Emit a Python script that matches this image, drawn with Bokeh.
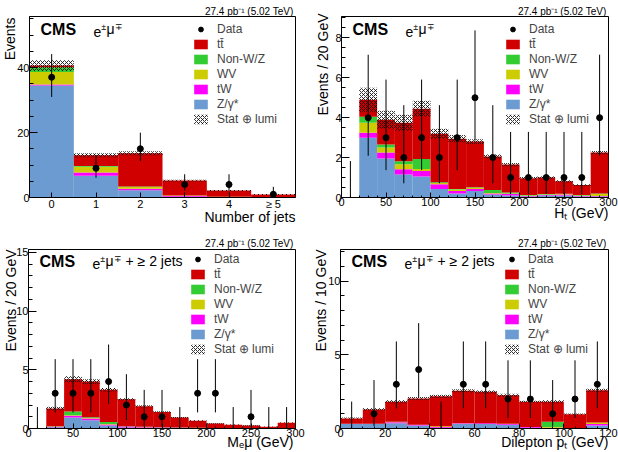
import numpy as np
from bokeh.plotting import figure
from bokeh.layouts import column, row
from bokeh.models import (Label, Legend, LegendItem, FixedTicker,
                          SingleIntervalTicker, Title)
from bokeh.embed import file_html
from bokeh.resources import INLINE

FONT = "Liberation Sans"

# process colours
C_TT = "#d10000"
C_NONW = "#33cc33"
C_WV = "#cccc00"
C_TW = "#ff00ff"
C_ZG = "#6b9bd1"

# ---- jet multiplicity (e mu) ----
njet_labels = ["0", "1", "2", "3", "4", "≥ 5"]
njet_zg = [34.5, 6.7, 2.2, 0.25, 0.05, 0.02]
njet_tw = [0.3, 1.0, 0.5, 0.25, 0.1, 0.05]
njet_wv = [3.8, 1.8, 0.5, 0.1, 0.05, 0.02]
njet_nonw = [1.5, 0.2, 0.2, 0.05, 0.02, 0.01]
njet_tt = [0.5, 3.3, 10.2, 4.55, 1.9, 0.8]
njet_stat = [1.7, 0.6, 0.6, 0.3, 0.2, 0.15]
njet_data = [37, 9, 15, 4, 4, 1]

# ---- H_T (e mu), 20 GeV bins ----
ht_edges = list(range(0, 301, 20))
ht_zg = [0, 3.0, 1.95, 1.15, 1.05, 0.42, 0.2, 0.33, 0.15, 0.1, 0.05, 0.1, 0.1, 0.05, 0.05]
ht_tw = [0, 0.25, 0.3, 0.27, 0.28, 0.25, 0.12, 0.1, 0.05, 0.08, 0.03, 0.03, 0.05, 0.03, 0.03]
ht_wv = [0, 0.5, 0.25, 0.25, 0.1, 0.06, 0.08, 0.06, 0.03, 0.02, 0.02, 0.02, 0.02, 0.02, 0.1]
ht_nonw = [0, 0.3, 0.15, 0.15, 0.5, 0.03, 0.02, 0.02, 0.15, 0.05, 0.02, 0.02, 0.02, 0.02, 0.02]
ht_tt = [0, 0.85, 1.25, 1.93, 2.52, 2.44, 2.53, 2.29, 1.67, 1.4, 0.85, 0.83, 0.63, 0.51, 2.05]
ht_stat = [0, 0.6, 0.45, 0.4, 0.4, 0.25, 0.18, 0.12, 0.1, 0.08, 0.06, 0.06, 0.06, 0.05, 0.08]
ht_data = [0, 4, 3, 2, 3, 2, 3, 5, 2, 1, 1, 1, 1, 1, 4]

# ---- dilepton mass (e mu + >= 2 jets), 20 GeV bins ----
mll_edges = list(range(0, 301, 20))
mll_zg = [0, 0.1, 0.94, 0.7, 0.25, 0.08, 0.05, 0.03, 0.02, 0.02, 0.01, 0.01, 0.01, 0.0, 0.01]
mll_tw = [0, 0.05, 0.14, 0.15, 0.1, 0.08, 0.06, 0.05, 0.04, 0.03, 0.02, 0.02, 0.01, 0.01, 0.02]
mll_wv = [0, 0.02, 0.05, 0.05, 0.03, 0.02, 0.02, 0.01, 0.01, 0.01, 0.01, 0.0, 0.0, 0.0, 0.01]
mll_nonw = [0, 0.02, 0.32, 0.05, 0.17, 0.02, 0.01, 0.01, 0.01, 0.0, 0.0, 0.0, 0.0, 0.0, 0.0]
mll_tt = [0, 1.51, 2.75, 3.05, 2.75, 2.3, 1.76, 1.3, 0.86, 0.6, 0.39, 0.29, 0.24, 0.14, 0.46]
mll_stat = [0, 0.15, 0.25, 0.2, 0.15, 0.1, 0.08, 0.06, 0.05, 0.04, 0.03, 0.03, 0.03, 0.02, 0.04]
mll_data = [0, 3, 3, 3, 4, 2, 1, 1, 0, 3, 3, 0, 1, 0, 0]

# ---- dilepton pT (e mu + >= 2 jets), 10 GeV bins ----
ptll_edges = list(range(0, 121, 10))
ptll_zg = [0.3, 0.3, 0.35, 0.2, 0.05, 0.3, 0.3, 0.25, 0.05, 0.03, 0.02, 0.2]
ptll_tw = [0.02, 0.02, 0.08, 0.05, 0.05, 0.05, 0.05, 0.05, 0.05, 0.02, 0.01, 0.1]
ptll_wv = [0.01, 0.01, 0.01, 0.01, 0.05, 0.02, 0.01, 0.02, 0.01, 0.05, 0.01, 0.1]
ptll_nonw = [0.0, 0.0, 0.01, 0.0, 0.0, 0.01, 0.0, 0.0, 0.0, 0.35, 0.0, 0.0]
ptll_tt = [0.35, 0.96, 1.36, 1.78, 2.04, 2.18, 2.13, 1.94, 1.70, 1.36, 0.93, 2.2]
ptll_stat = [0.06, 0.08, 0.1, 0.1, 0.1, 0.1, 0.1, 0.1, 0.08, 0.1, 0.05, 0.1]
ptll_data = [0, 1, 3, 4, 0, 3, 3, 2, 2, 1, 2, 3]

LEGEND_LABELS = ["Data", "tt\u0304", "Non-W/Z", "WV", "tW", "Z/\u03b3*", "Stat \u2295 lumi"]
LUMI_TEXT = "27.4 pb\u207b\u00b9 (5.02 TeV)"


def poisson_interval(n):
    """Approximate 68% Garwood interval (Wilson-Hilferty)."""
    n = np.asarray(n, dtype=float)
    safe = np.maximum(n, 1.0)
    lo = np.where(n > 0, safe * (1 - 1 / (9 * safe) - 1 / (3 * np.sqrt(safe))) ** 3, 0.0)
    m = n + 1
    hi = m * (1 - 1 / (9 * m) + 1 / (3 * np.sqrt(m))) ** 3
    return lo, hi


def text(p, x, y, s, size, **kw):
    kw.setdefault("text_font", FONT)
    kw.setdefault("text_color", "black")
    lab = Label(x=x, y=y, x_units="screen", y_units="screen", text=s,
                text_font_size=size, **kw)
    p.add_layout(lab)
    return lab


def title(s, size, standoff, offset, valign="bottom"):
    return Title(text=s, align="right", vertical_align=valign,
                 text_font=FONT, text_font_size=size,
                 text_font_style="normal", text_color="black",
                 standoff=standoff, offset=offset)


def panel(left, right, comps, stat, data, xr, yr, borders, xticker, yticker,
          channel_extra, ytitle, xtitle, lumi_cfg, y_cfg, x_cfg, legend_pos,
          x_overrides=None):
    L, R, T, B = borders
    W, H = 309, 226
    fw, fh = W - L - R, H - T - B
    p = figure(width=W, height=H, x_range=xr, y_range=yr,
               output_backend="svg", toolbar_location=None,
               min_border_left=L, min_border_right=R,
               min_border_top=T, min_border_bottom=B)
    p.background_fill_color = "white"
    p.border_fill_color = "white"
    p.outline_line_color = "black"
    p.outline_line_width = 1
    p.xgrid.visible = False
    p.ygrid.visible = False

    for ax, tick_len in ((p.xaxis, 5), (p.yaxis, 8)):
        ax.axis_line_color = "black"
        ax.major_tick_line_color = "black"
        ax.minor_tick_line_color = "black"
        ax.major_tick_in = tick_len
        ax.major_tick_out = 0
        ax.minor_tick_in = tick_len // 2
        ax.minor_tick_out = 0
        ax.major_label_text_font = FONT
        ax.major_label_text_font_size = "11px"
        ax.major_label_text_color = "black"
    p.xaxis.major_label_standoff = 0
    p.yaxis.major_label_standoff = 0
    p.xaxis.ticker = xticker
    p.yaxis.ticker = yticker
    if x_overrides:
        p.xaxis.major_label_overrides = x_overrides

    left = np.asarray(left, float)
    right = np.asarray(right, float)
    base = np.zeros(len(left))
    rend = {}
    for name, vals, color in comps:
        top = base + np.asarray(vals, float)
        rend[name] = p.quad(left=left, right=right, bottom=base, top=top,
                            fill_color=color, line_color=None)
        base = top
    stat = np.asarray(stat, float)
    band = p.quad(left=left, right=right, bottom=base - stat, top=base + stat,
                  fill_alpha=0, line_color=None,
                  hatch_pattern="diagonal_cross", hatch_color="black",
                  hatch_scale=4, hatch_weight=0.8)

    data = np.asarray(data, float)
    centers = 0.5 * (left + right)
    lo, hi = poisson_interval(data)
    p.segment(x0=centers, y0=lo, x1=centers, y1=hi, line_color="black",
              line_width=1)
    has = data > 0
    pts = p.scatter(x=centers[has], y=data[has], size=6, color="black")

    legend = Legend(
        items=[LegendItem(label=LEGEND_LABELS[0], renderers=[pts]),
               LegendItem(label=LEGEND_LABELS[1], renderers=[rend["tt"]]),
               LegendItem(label=LEGEND_LABELS[2], renderers=[rend["nonw"]]),
               LegendItem(label=LEGEND_LABELS[3], renderers=[rend["wv"]]),
               LegendItem(label=LEGEND_LABELS[4], renderers=[rend["tw"]]),
               LegendItem(label=LEGEND_LABELS[5], renderers=[rend["zg"]]),
               LegendItem(label=LEGEND_LABELS[6], renderers=[band])],
        location=(legend_pos[0], fh - legend_pos[1] - 104),
        label_text_font=FONT, label_text_font_size="12px",
        glyph_width=17, glyph_height=12, label_height=12, spacing=1,
        padding=0, margin=0, label_standoff=8,
        border_line_alpha=0, background_fill_alpha=0)
    p.add_layout(legend)

    # CMS tag and channel
    top_gap = 21 if T < 20 else 20
    text(p, 11, fh - top_gap, "CMS", "16px", text_font_style="bold")
    cx = 64
    text(p, cx, fh - top_gap + 1, "e", "14px")
    text(p, cx + 7.8, fh - top_gap + 6, "\u00b1", "9px")
    text(p, cx + 13.1, fh - top_gap + 1, "\u03bc", "14px")
    text(p, cx + 21.2, fh - top_gap + 6, "\u2213", "9px")
    if channel_extra:
        text(p, cx + 33, fh - top_gap + 1, channel_extra, "14px")

    p.add_layout(title(LUMI_TEXT, "10px", lumi_cfg[0], lumi_cfg[1]), "above")
    p.add_layout(title(ytitle, "14px", y_cfg[0], y_cfg[1], "middle"), "left")
    p.add_layout(title(xtitle, "14px", x_cfg[0], x_cfg[1], "middle"), "below")
    return p


def comps_of(zg, tw, wv, nonw, tt):
    return [("zg", zg, C_ZG), ("tw", tw, C_TW), ("wv", wv, C_WV),
            ("nonw", nonw, C_NONW), ("tt", tt, C_TT)]


nj_idx = np.arange(len(njet_labels))
p1 = panel(nj_idx - 0.5, nj_idx + 0.5,
           comps_of(njet_zg, njet_tw, njet_wv, njet_nonw, njet_tt),
           njet_stat, njet_data, (-0.5, 5.5), (0, 55.7), (29, 14, 16, 29),
           FixedTicker(ticks=list(nj_idx), minor_ticks=[]),
           SingleIntervalTicker(interval=20, num_minor_ticks=4),
           None, "Events", "Number of jets",
           (0, 2), (-8, 1), (-10, 0), (163, 6),
           x_overrides={int(i): s for i, s in zip(nj_idx, njet_labels)})

p2 = panel(ht_edges[:-1], ht_edges[1:],
           comps_of(ht_zg, ht_tw, ht_wv, ht_nonw, ht_tt),
           ht_stat, ht_data, (0, 300), (0, 9.07), (32, 10, 16, 29),
           SingleIntervalTicker(interval=50, num_minor_ticks=5),
           SingleIntervalTicker(interval=2, num_minor_ticks=4),
           None, "Events / 20 GeV", "H\u209c (GeV)",
           (0, 2), (1, -3), (-10, 0), (163, 6))

p3 = panel(mll_edges[:-1], mll_edges[1:],
           comps_of(mll_zg, mll_tw, mll_wv, mll_nonw, mll_tt),
           mll_stat, mll_data, (0, 300), (0, 15.25), (28, 14, 23, 24),
           SingleIntervalTicker(interval=50, num_minor_ticks=5),
           SingleIntervalTicker(interval=5, num_minor_ticks=5),
           "+ \u2265 2 jets", "Events / 20 GeV", "M\u2091\u03bc (GeV)",
           (2, 2), (-12, 0), (-13, 2), (161, 3))

p4 = panel(ptll_edges[:-1], ptll_edges[1:],
           comps_of(ptll_zg, ptll_tw, ptll_wv, ptll_nonw, ptll_tt),
           ptll_stat, ptll_data, (0, 120), (0, 12.15), (31, 10, 23, 24),
           SingleIntervalTicker(interval=20, num_minor_ticks=4),
           SingleIntervalTicker(interval=5, num_minor_ticks=5),
           "+ \u2265 2 jets", "Events / 10 GeV", "Dilepton p\u209c (GeV)",
           (2, 2), (-9, 0), (-13, 0), (163, 3))

layout = column(row(p1, p2), row(p3, p4))
open("out.html", "w").write(file_html(layout, INLINE))
